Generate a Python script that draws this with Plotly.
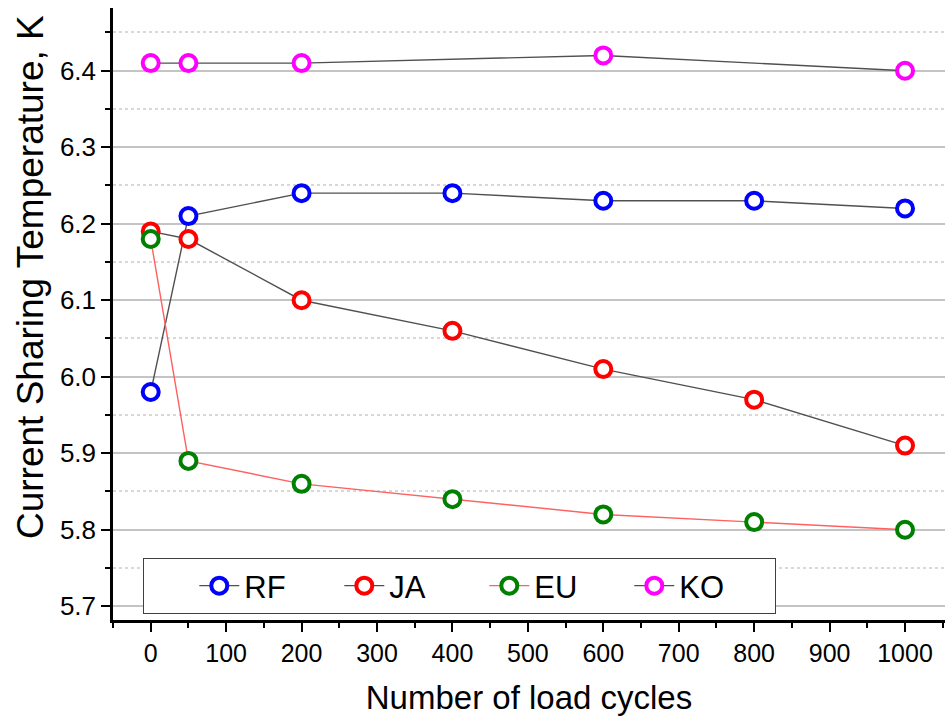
import plotly.graph_objects as go

cycles = [0, 50, 200, 400, 600, 800, 1000]
rf = [5.98, 6.21, 6.24, 6.24, 6.23, 6.23, 6.22]
ja = [6.19, 6.18, 6.10, 6.06, 6.01, 5.97, 5.91]
eu = [6.18, 5.89, 5.86, 5.84, 5.82, 5.81, 5.80]
ko_cycles = [0, 50, 200, 600, 1000]
ko = [6.41, 6.41, 6.41, 6.42, 6.40]

series = [
    ("RF", cycles, rf, "#0000ff", "#505050"),
    ("JA", cycles, ja, "#ff0000", "#505050"),
    ("EU", cycles, eu, "#008000", "#ff6060"),
    ("KO", ko_cycles, ko, "#ff00ff", "#505050"),
]

fig = go.Figure()
for name, xs, ys, mc, lc in series:
    fig.add_trace(go.Scatter(
        x=xs, y=ys, name=name, mode="lines+markers",
        line=dict(color=lc, width=1.4),
        marker=dict(symbol="circle", size=16, color="white",
                    line=dict(color=mc, width=4)),
    ))

font = "Arial, Liberation Sans, sans-serif"
L, R, T, B = 113, 6, 8, 98
W, H = 951, 718
pw, ph = W - L - R, H - T - B

fig.update_layout(
    width=W, height=H,
    margin=dict(l=L, r=R, t=T, b=B),
    paper_bgcolor="white", plot_bgcolor="white",
    font=dict(family=font, color="black"),
    showlegend=True,
    legend=dict(
        orientation="h", x=(143 - L) / pw, y=(620 - 614) / ph,
        xanchor="left", yanchor="bottom",
        bordercolor="#404040", borderwidth=1, bgcolor="white",
        font=dict(size=31, family=font),
        itemwidth=40, entrywidth=90, entrywidthmode="pixels",
        title=dict(text="\u00a0" * 5, side="left", font=dict(size=29)),
    ),
    xaxis=dict(
        range=[-50, 1053], tickmode="linear", tick0=0, dtick=100,
        showline=True, linecolor="black", linewidth=2.5,
        ticks="outside", ticklen=9, tickwidth=2, tickcolor="black",
        tickfont=dict(size=25),
        minor=dict(dtick=50, tick0=0, ticks="outside", ticklen=5, tickwidth=2, tickcolor="black"),
        showgrid=False, zeroline=False,
        title=dict(text="Number of load cycles", font=dict(size=33), standoff=21),
    ),
    yaxis=dict(
        range=[5.682, 6.482], tickmode="linear", tick0=5.7, dtick=0.1,
        tickformat=".1f",
        showline=True, linecolor="black", linewidth=2.5,
        ticks="outside", ticklen=9, tickwidth=2, tickcolor="black",
        tickfont=dict(size=26),
        showgrid=True, gridcolor="#c4c4c4", gridwidth=2,
        minor=dict(dtick=0.05, tick0=5.7, ticks="outside", ticklen=5, tickwidth=2,
                   tickcolor="black", showgrid=True, gridcolor="#d8d8d8",
                   griddash="dot", gridwidth=1.5),
        zeroline=False,
    ),
    annotations=[dict(
        text="Current Sharing Temperature, K", textangle=-90,
        xref="paper", yref="paper",
        x=(30 - L) / pw, y=(H - B - 277) / ph,
        xanchor="center", yanchor="middle", showarrow=False,
        font=dict(size=37, family=font),
    )],
)

fig.write_html("out.html")
